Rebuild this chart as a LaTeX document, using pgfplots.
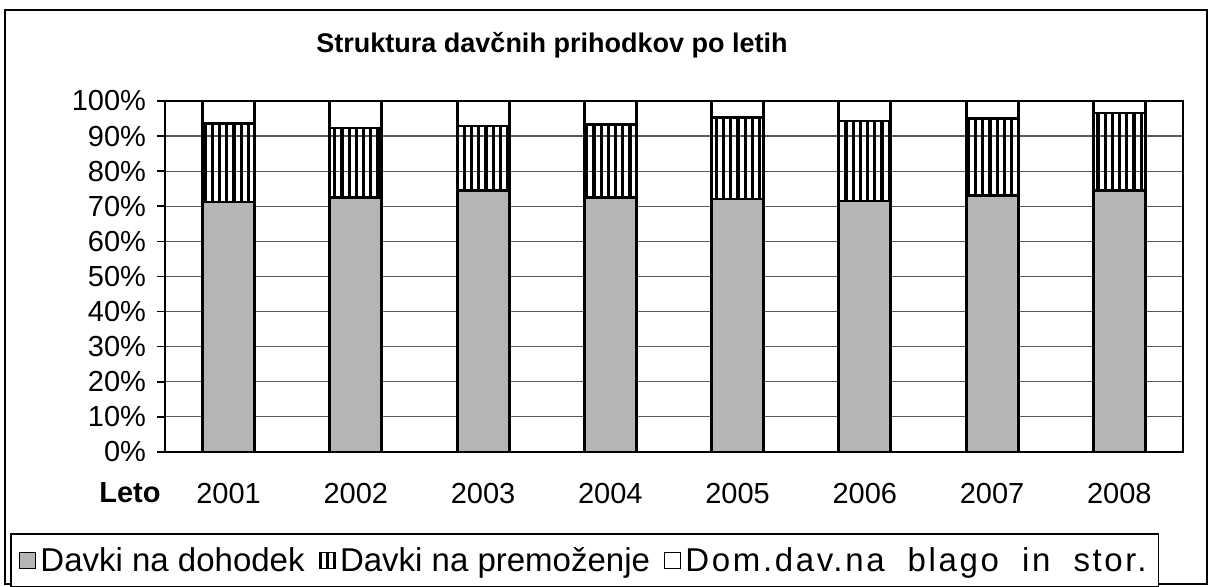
\documentclass[border=0pt]{standalone}
\usepackage{pgfplots}
\pgfplotsset{compat=1.18}
\usepackage{fontspec}
\setmainfont{Liberation Sans}
\usetikzlibrary{patterns}
\pgfdeclarepatternformonly{myvlines}{\pgfpoint{-1pt}{-1pt}}{\pgfpoint{4.6pt}{4.6pt}}{\pgfpoint{3.6pt}{3.6pt}}{%
  \pgfsetlinewidth{1.6pt}%
  \pgfpathmoveto{\pgfpoint{1.8pt}{-1pt}}%
  \pgfpathlineto{\pgfpoint{1.8pt}{4.6pt}}%
  \pgfusepath{stroke}}
\begin{document}
\begin{tikzpicture}
\useasboundingbox (-82.5pt,226pt) rectangle (523.5pt,-67.5pt);
\draw[line width=0.8pt] (-80pt,221pt) rectangle (521pt,-66pt);
\begin{axis}[
  at={(0pt,0pt)}, anchor=origin,
  scale only axis, width=509pt, height=175.5pt,
  xmin=0.5, xmax=8.5, ymin=0, ymax=100,
  ybar stacked, bar width=26pt,
  xtick={1,...,8},
  xticklabels={2001,2002,2003,2004,2005,2006,2007,2008},
  major x tick style={draw=none},
  extra x ticks={0.5,1.5,...,8.5},
  extra x tick labels={},
  extra x tick style={major tick length=5pt, tick style={draw=black, line width=0.8pt}, grid=none},
  xtick pos=lower, ytick pos=left,
  ytick={0,10,...,100},
  yticklabel={\pgfmathprintnumber{\tick}\%},
  tick align=outside,
  major tick length=4pt,
  tick style={black, line width=0.8pt},
  ymajorgrids,
  grid style={black!65, line width=0.6pt},
  axis line style={line width=0.8pt},
  tick label style={font=\fontsize{14.5}{16}\selectfont},
  /pgf/number format/assume math mode=true,
  xticklabel style={yshift=-8pt},
  yticklabel style={xshift=-2pt},
  legend style={at={(axis description cs:-0.152,-0.232)}, anchor=north west,
    draw=black, line width=0.8pt, font=\fontsize{16.5}{18}\selectfont,
    legend columns=3, inner xsep=4pt, inner ysep=4.5pt,
    /tikz/every even column/.append style={column sep=5pt}},
  legend image code/.code={\draw[#1, line width=0.7pt] (0pt,-4pt) rectangle (8pt,4pt);},
  clip=false,
]
\addplot[fill=gray!58, draw=black, line width=1.4pt] coordinates {
 (1,71.2) (2,72.4) (3,74.4) (4,72.4) (5,72.1) (6,71.5) (7,73.0) (8,74.6)};
\addlegendentry{Davki na dohodek}
\addplot[pattern=myvlines, draw=black, line width=1.4pt] coordinates {
 (1,22.5) (2,19.9) (3,18.5) (4,20.8) (5,23.1) (6,22.8) (7,21.9) (8,22.0)};
\addlegendentry{Davki na premoženje}
\addplot[fill=white, draw=black, line width=1.4pt] coordinates {
 (1,6.3) (2,7.7) (3,7.1) (4,6.8) (5,4.8) (6,5.7) (7,5.1) (8,3.4)};
\addlegendentry{\addfontfeature{LetterSpace=8}Dom.dav.na\hspace{0.7em}blago\hspace{0.7em}in\hspace{0.7em}stor.}
\end{axis}
\node[font=\bfseries\fontsize{13.5}{16}\selectfont] at (193.5pt,203.5pt) {Struktura davčnih prihodkov po letih};
\node[font=\bfseries\fontsize{14.5}{16}\selectfont] at (-17.5pt,-20.5pt) {Leto};
\end{tikzpicture}
\end{document}
